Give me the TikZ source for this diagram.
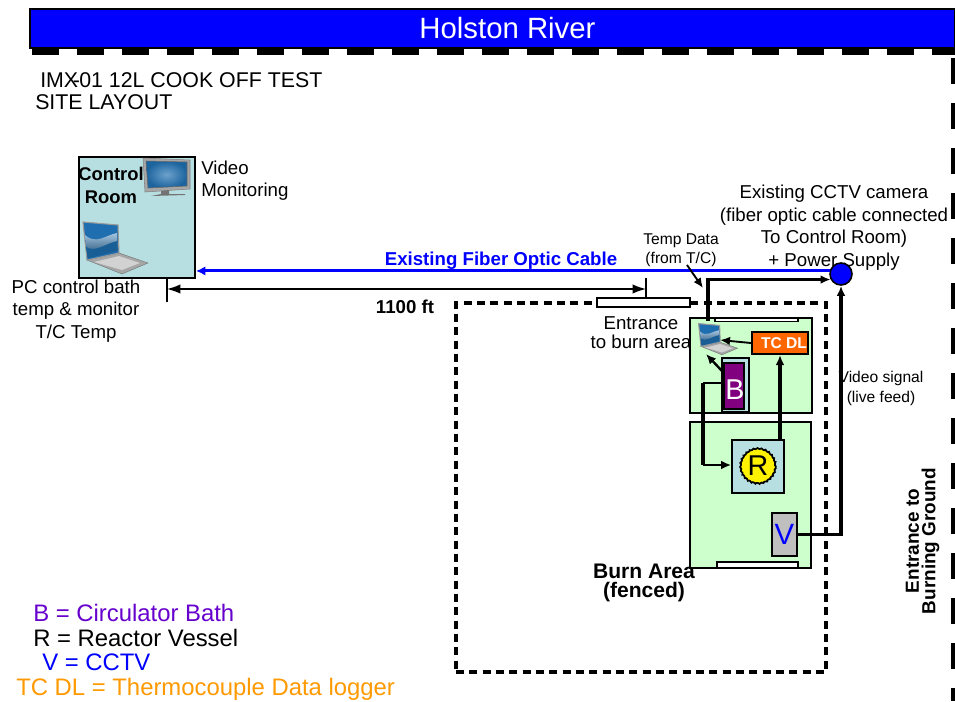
\documentclass[tikz,border=0pt]{standalone}
\usepackage{fontspec}
\setmainfont{Liberation Sans}
\usetikzlibrary{arrows.meta,decorations.pathmorphing}
\definecolor{roomblue}{HTML}{B7DFE2}
\definecolor{burngreen}{HTML}{CCFFCC}
\definecolor{tcorange}{HTML}{FF6600}
\definecolor{bathpurple}{HTML}{800080}
\definecolor{legendpurple}{HTML}{6600CC}
\definecolor{legendorange}{HTML}{FF9900}
\definecolor{screenblue}{HTML}{1F6FB0}
\tikzset{
  boxbase/.style={draw=black,inner sep=0pt,line width=1.5pt},
  labeltext/.style={inner sep=0pt,align=center,font=\fontsize{14}{16.9}\selectfont},
  legendtext/.style={inner sep=0pt,anchor=west,font=\fontsize{17.9}{20}\selectfont},
  smalltext/.style={inner sep=0pt,align=center,font=\fontsize{11.7}{14.6}\selectfont},
  heavyline/.style={line width=2.6pt},
  midtip/.style={-{Latex[length=7.5pt,width=6.5pt]}},
  laptop/.pic={
    \fill[gray!70,draw=gray!90!black,line width=0.3pt] (5,39) -- (37,32) -- (66,42) -- (40,53) -- cycle;
    \fill[gray!35] (12,41) -- (37,35) -- (58,42) -- (40,49) -- cycle;
    \fill[screenblue,draw=gray!80,line width=0.8pt] (1,1) -- (36,4) -- (37,32) -- (5,39) -- cycle;
    \shade[top color=screenblue!40!white,bottom color=screenblue!60!black] (3,14) .. controls (14,24) and (24,14) .. (35,12) -- (35.5,30) -- (6,37) -- cycle;
    \fill[screenblue!85!black] (4,26) .. controls (14,32) and (24,22) .. (35.5,20) -- (35.5,30) -- (6,37) -- cycle;
  },
  monitor/.pic={
    \fill[gray!70,draw=gray,line width=0.4pt] (0,0) -- (47,2) -- (47,31) -- (2,34) -- cycle;
    \shade[inner color=screenblue!65!white,outer color=screenblue!90!black,draw=black!60] (3,3) -- (44,4) -- (44,28) -- (5,30) -- cycle;
    \fill[gray!90!black] (18,33) -- (26,32) -- (26,36) -- (42,36) -- (42,37) -- (8,38) -- (18,36) -- cycle;
  },
}
\begin{document}
\begin{tikzpicture}[x=0.75pt,y=-0.75pt]
  \useasboundingbox (0,0) rectangle (955,701);
  % River along the top, site boundary below it and on the right
  \node[draw=black,fill=blue,line width=1.2pt,minimum width=925*0.75pt,minimum height=39*0.75pt,inner sep=0pt,text=white,font=\fontsize{22}{26}\selectfont] (river) at (492.5,28.5) {\hspace*{22.5pt}\raisebox{-3.4pt}{Holston River}};
  \coordinate (riverA) at (32,52);
  \coordinate (riverB) at (955,52);
  \coordinate (sideA) at (954,58);
  \coordinate (sideB) at (954,701);
  \draw[line width=5.2pt,dash pattern=on 20pt off 13.75pt] (riverA) -- (riverB);
  \draw[line width=5.2pt,dash pattern=on 19.5pt off 14.25pt] (sideA) -- (sideB);
  % Title
  \node[labeltext,anchor=west,font=\fontsize{16}{18}\selectfont] (titleA) at (40,80) {IMX\kern-4pt-\kern-0.5pt01 12L COOK OFF TEST};
  \node[labeltext,anchor=west,font=\fontsize{16}{18}\selectfont] (titleB) at (35,102) {SITE LAYOUT};
  % Control room
  \node[boxbase,fill=roomblue,minimum width=116*0.75pt,minimum height=121*0.75pt] (control) at (137,217.5) {};
  \pic at (82,221) {laptop};
  \pic at (143,158) {monitor};
  \node[labeltext,font=\bfseries\fontsize{13.8}{17.2}\selectfont] (controltext) at (111,185.5) {Control\\Room};
  \node[labeltext,align=left,anchor=west] (videotext) at (201,180.5) {Video\\Monitoring};
  \node[labeltext] (pctext) at (76,311) {PC control bath\\temp \& monitor\\T/C Temp};
  % Burn area fence and gate
  \node[draw=black,line width=2.6pt,dash pattern=on 6pt off 4pt,minimum width=370*0.75pt,minimum height=369*0.75pt] (fence) at (641,487.5) {};
  \node[boxbase,fill=white,minimum width=93*0.75pt,minimum height=9*0.75pt] (entrance) at (643.5,302.5) {};
  \node[labeltext,font=\fontsize{14}{14}\selectfont] (entrancetext) at (641,332.5) {Entrance\\to burn area};
  % Fenced enclosures
  \node[boxbase,fill=burngreen,minimum width=122*0.75pt,minimum height=95*0.75pt] (upper) at (751,365.5) {};
  \node[boxbase,fill=white,line width=1pt,minimum width=83*0.75pt,minimum height=3.5*0.75pt] (uppergate) at (756.5,320) {};
  \node[boxbase,fill=burngreen,minimum width=121*0.75pt,minimum height=146*0.75pt] (lower) at (750.5,495) {};
  \node[boxbase,fill=white,line width=1pt,minimum width=81*0.75pt,minimum height=6*0.75pt] (lowergate) at (757.5,565) {};
  % Equipment
  \node[boxbase,fill=tcorange,minimum width=56*0.75pt,minimum height=22*0.75pt,text=white,font=\bfseries\fontsize{11.7}{12}\selectfont] (tcdl) at (780,343) {\hspace*{6pt}TC DL};
  \node[boxbase,fill=roomblue,minimum width=27*0.75pt,minimum height=54*0.75pt] (bathouter) at (735.5,385) {};
  \node[boxbase,fill=bathpurple,minimum width=20*0.75pt,minimum height=46*0.75pt] (bath) at (734,385.5) {};
  \node[inner sep=0pt,text=white,font=\fontsize{21.5}{24}\selectfont] (bathtext) at (735,390) {B};
  \node[boxbase,fill=roomblue,line width=1.2pt,minimum width=52*0.75pt,minimum height=53*0.75pt] (reactor) at (758,466.5) {};
  \node[draw=black,fill=yellow,circle,line width=1.3pt,minimum size=35*0.75pt,inner sep=0pt,decorate,decoration={bumps,segment length=6pt,amplitude=0.5pt},font=\fontsize{21.5}{24}\selectfont] (vessel) at (758,466) {R};
  \node[boxbase,fill=gray!50,line width=1.2pt,minimum width=25*0.75pt,minimum height=43*0.75pt,text=blue,font=\fontsize{22}{24}\selectfont] (cctv) at (784.5,534.5) {V};
  \pic[scale=0.6] at (698,323) {laptop};
  \coordinate (pcside) at (720,340);
  \coordinate (pcbase) at (706,354);
  % Camera and its labels
  \node[smalltext] (videosignal) at (881,388.5) {Video signal\\(live feed)};
  \node[smalltext] (tempdata) at (681,250) {Temp Data\\(from T/C)};
  \node[labeltext] (cameratext) at (834,227.5) {Existing CCTV camera\\(fiber optic cable connected\\To Control Room)\\+ Power Supply};
  \node[draw=black,fill=blue,circle,line width=1.2pt,minimum size=22*0.75pt,inner sep=0pt] (camera) at (841,274) {};
  % Fiber cable and distance
  \node[inner sep=0pt,text=blue,font=\bfseries\fontsize{14}{16}\selectfont] (fibertext) at (501,261) {Existing Fiber Optic Cable};
  \draw[blue,line width=2.2pt,-{Latex[length=7pt,width=7pt]}] (camera.165) -- (control.east |- camera.165);
  \coordinate (tickA) at (167,278);
  \coordinate (tickB) at (167,302);
  \coordinate (tickC) at (646,278);
  \coordinate (tickD) at (646,298);
  \coordinate (dimA) at (167,289);
  \coordinate (dimB) at (646,289);
  \draw[line width=1.1pt] (tickA) -- (tickB);
  \draw[line width=1.1pt] (tickC) -- (tickD);
  \draw[line width=1.1pt,{Latex[length=10pt,width=7pt]}-{Latex[length=10pt,width=7pt]}] (dimA) -- (dimB);
  \node[inner sep=0pt,font=\bfseries\fontsize{14}{16}\selectfont] (distance) at (405,307) {1100 ft};
  % Connections
  \coordinate (tap) at (708,321);
  \coordinate (tempend) at (703,288);
  \coordinate (tempstart) at (687,265);
  \coordinate (bathout) at (722,371);
  \coordinate (bathline) at (722,383);
  \coordinate (bendtop) at (703,383);
  \coordinate (bend) at (703,465);
  \draw[line width=1.4pt,midtip] (tempstart) -- (tempend);
  \draw[line width=2.4pt,midtip] (tap) |- (camera.208);
  \draw[heavyline,midtip] (cctv.east) -| (camera.south);
  \draw[line width=1.4pt,midtip] (tcdl.west) -- (pcside);
  \draw[line width=1.8pt,midtip] (bathout) -- (pcbase);
  \draw[line width=2pt] (bathline) -- (bendtop);
  \draw[heavyline] (bendtop) -- (bend);
  \draw[line width=1.6pt,midtip] (bend) -- (reactor.west |- bend);
  \draw[line width=2.4pt,midtip] (tcdl.south |- reactor.north) -- (tcdl.south);
  % Legend
  \node[legendtext,text=legendpurple] (legendB) at (33,613) {B = Circulator Bath};
  \node[legendtext] (legendR) at (33,638) {R = Reactor Vessel};
  \node[legendtext,text=blue] (legendV) at (42,662) {V = CCTV};
  \node[legendtext,text=legendorange] (legendT) at (16,689) {TC DL = Thermocouple Data logger};
  % Remaining labels
  \node[labeltext,font=\bfseries\fontsize{15.8}{14.2}\selectfont] (burntext) at (644,583) {Burn Area\\(fenced)};
  \node[labeltext,rotate=90,font=\bfseries\fontsize{14.2}{12.4}\selectfont] (gatetext) at (922.5,541) {Entrance to\\Burning Ground};
\end{tikzpicture}
\end{document}
